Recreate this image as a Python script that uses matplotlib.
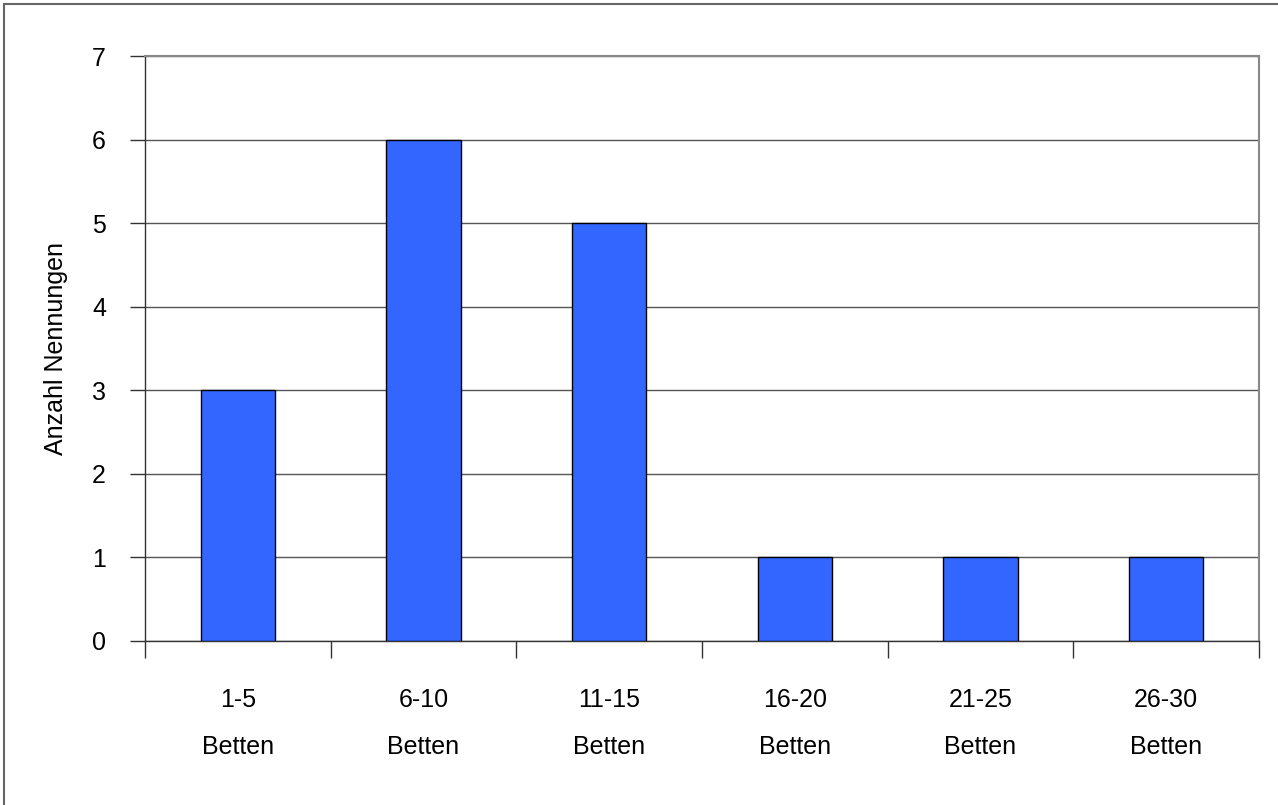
import matplotlib.pyplot as plt
from matplotlib.patches import Rectangle

plt.rcParams['font.family'] = ['Liberation Sans', 'DejaVu Sans']

categories = ["1-5", "6-10", "11-15", "16-20", "21-25", "26-30"]
unit = "Betten"
counts = [3, 6, 5, 1, 1, 1]

fs = 18

fig = plt.figure(figsize=(12.78, 8.05), dpi=100)
ax = fig.add_axes([145 / 1278, 1 - 641 / 805, (1259 - 145) / 1278, (641 - 56) / 805])

x = list(range(len(categories)))
ax.bar(x, counts, width=0.4, color="#3366FF", edgecolor="black", linewidth=1, zorder=3)

ax.set_xlim(-0.5, len(categories) - 0.5)
ax.set_ylim(0, 7)
ax.set_yticks(range(0, 8))
ax.yaxis.grid(True, color="#555555", linewidth=1, zorder=0)

# category labels sit between the boundary ticks
ax.set_xticks([i - 0.5 for i in range(len(categories) + 1)])
ax.set_xticklabels([])
ax.set_xticks(x, minor=True)
ax.set_xticklabels([f"{c}\n{unit}" for c in categories], minor=True, linespacing=2.22)
ax.tick_params(axis="x", which="minor", length=0, pad=33.5, labelsize=fs)
ax.tick_params(axis="x", which="major", length=12, width=1, color="#333333")
ax.tick_params(axis="y", length=11, width=1, color="#333333", labelsize=fs, pad=17)

for side in ("top", "right"):
    ax.spines[side].set_color("#888888")
    ax.spines[side].set_linewidth(1.5)
for side in ("left", "bottom"):
    ax.spines[side].set_color("#333333")
    ax.spines[side].set_linewidth(1)

ax.set_ylabel("Anzahl Nennungen", fontsize=fs, labelpad=17)

fig.patches.append(Rectangle((4 / 1278, -0.1), 1.2, 1.1 - 4 / 805, transform=fig.transFigure,
                             fill=False, edgecolor="#666666", linewidth=1.5))

fig.savefig("out.png", dpi=100)
